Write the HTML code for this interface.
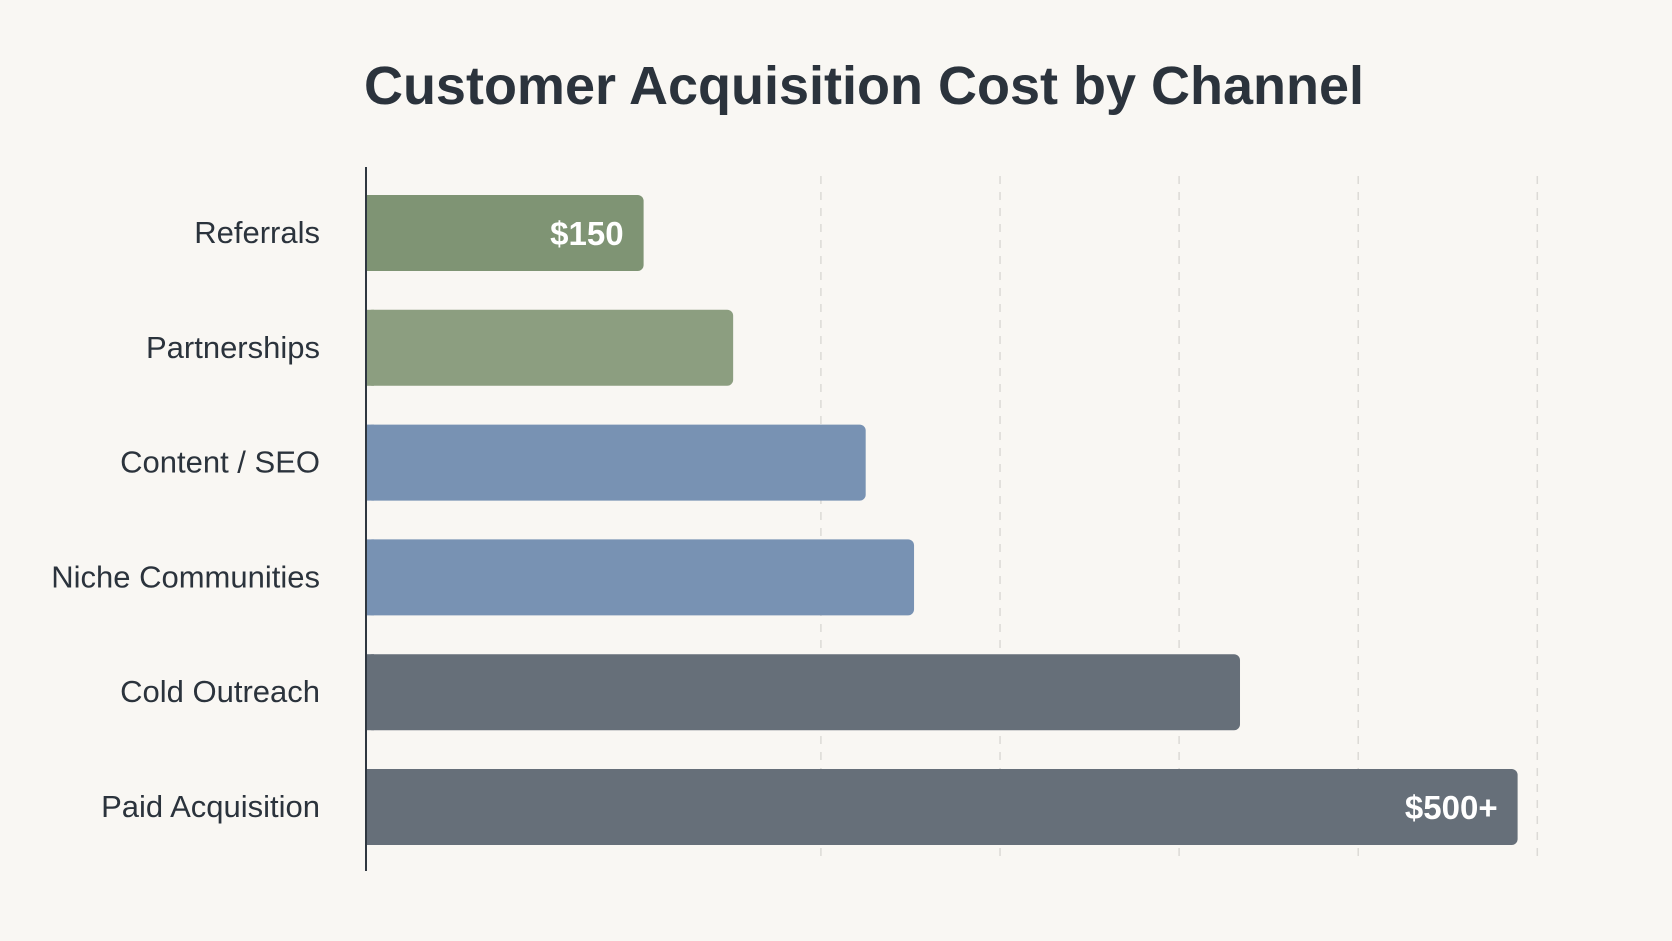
<!DOCTYPE html>
<html><head><meta charset="utf-8"><style>
html,body{margin:0;padding:0;background:#f9f7f3;}
svg{display:block;}
</style></head><body>
<svg id="chart" width="1672" height="941" viewBox="0 0 1672 941" xmlns="http://www.w3.org/2000/svg">
<rect width="1672" height="941" fill="#f9f7f3"/>
<text x="864" y="104" text-anchor="middle" font-family="Liberation Sans, sans-serif" font-size="54" font-weight="bold" fill="#2b333c">Customer Acquisition Cost by Channel</text>
<g id="grid"></g>
<g id="bars"></g>
<line x1="366" y1="167" x2="366" y2="871" stroke="#2f3740" stroke-width="2"/>
</svg>
<script>
const categories = ["Referrals","Partnerships","Content / SEO","Niche Communities","Cold Outreach","Paid Acquisition"];
const values = [155, 205, 279, 306, 488, 643];
const valueLabels = ["$150", "", "", "", "", "$500+"];
const colors = ["#7f9474","#8c9e80","#7892b3","#7892b3","#666f79","#666f79"];
const gridValues = [254, 354, 454, 554, 654];

const NS = "http://www.w3.org/2000/svg";
const x0 = 366, pxPer = 1.791;
const top0 = 195, step = 114.8, barH = 76;
const xScale = v => x0 + v * pxPer;
const yScale = i => top0 + i * step;
const grid = document.getElementById('grid');
const bars = document.getElementById('bars');

gridValues.forEach(v => {
  const l = document.createElementNS(NS, 'line');
  
  
  l.setAttribute('x1', xScale(v)); l.setAttribute('x2', xScale(v));
  l.setAttribute('y1', 176); l.setAttribute('y2', 862);
  l.setAttribute('stroke', '#dcdad6'); l.setAttribute('stroke-width', '1.5');
  l.setAttribute('stroke-dasharray', '8 8');
  grid.appendChild(l);
});

categories.forEach((c, i) => {
  const y = yScale(i);
  const r = document.createElementNS(NS, 'rect');
  
  
  r.setAttribute('x', x0); r.setAttribute('y', y);
  r.setAttribute('width', xScale(values[i]) - x0); r.setAttribute('height', barH);
  r.setAttribute('rx', 6); r.setAttribute('fill', colors[i]);
  bars.appendChild(r);
  const sq = document.createElementNS(NS, 'rect');
  
  
  sq.setAttribute('x', x0); sq.setAttribute('y', y); sq.setAttribute('width', 8); sq.setAttribute('height', barH);
  sq.setAttribute('fill', colors[i]);
  bars.appendChild(sq);
  const t = document.createElementNS(NS, 'text');
  
  
  t.setAttribute('x', 320); t.setAttribute('y', y + barH / 2 + 10);
  t.setAttribute('text-anchor', 'end');
  t.setAttribute('font-family', 'Liberation Sans, sans-serif');
  t.setAttribute('font-size', '31'); t.setAttribute('fill', '#2b333c');
  t.textContent = c;
  bars.appendChild(t);
  if (valueLabels[i]) {
    const v = document.createElementNS(NS, 'text');
    
    
    v.setAttribute('x', xScale(values[i]) - 20); v.setAttribute('y', y + barH / 2 + 12);
    v.setAttribute('text-anchor', 'end');
    v.setAttribute('font-family', 'Liberation Sans, sans-serif');
    v.setAttribute('font-size', '33'); v.setAttribute('font-weight', 'bold'); v.setAttribute('fill', '#ffffff');
    v.textContent = valueLabels[i];
    bars.appendChild(v);
  }
});
</script>
</body></html>
